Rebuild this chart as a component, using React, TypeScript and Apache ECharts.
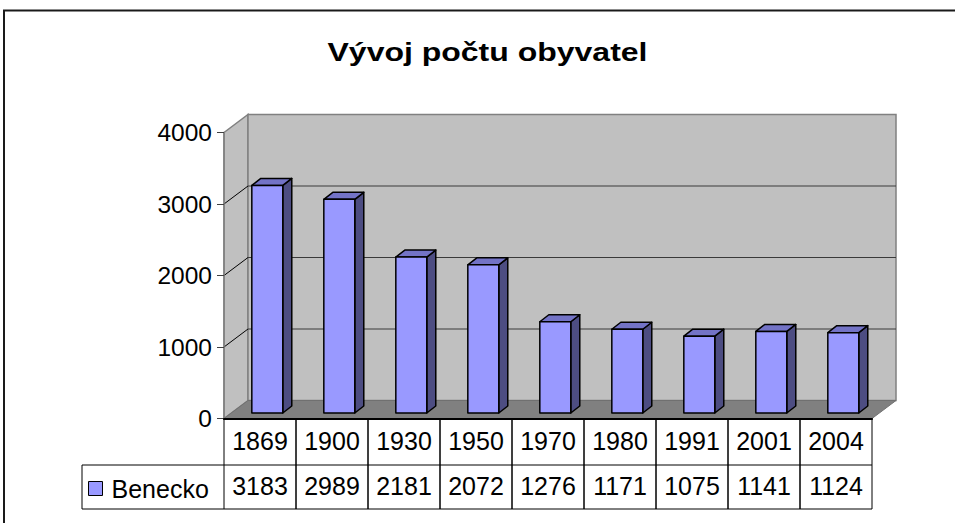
import React, { useEffect, useRef } from 'react';
import * as echarts from 'echarts';

const categories = ['1869', '1900', '1930', '1950', '1970', '1980', '1991', '2001', '2004'];
const population = [3183, 2989, 2181, 2072, 1276, 1171, 1075, 1141, 1124];
const yTicks = [0, 1000, 2000, 3000, 4000];
const seriesName = 'Benecko';
const titleText = 'Vývoj počtu obyvatel';

const FONT = '"Liberation Sans", Arial, Helvetica, sans-serif';

export default function App() {
  const ref = useRef<HTMLDivElement>(null);

  useEffect(() => {
    const chart = echarts.init(ref.current!, null, { renderer: 'svg' });

    // 3D depth of the plot box (relative to a category band of 72px)
    const DX = 24;
    const DY = -18;
    // bar placement inside the depth
    const FDX = 7.3;
    const FDY = -5.5;
    const BDX = 9;
    const BDY = -7;
    const ROW1_H = 46.5;
    const ROW2_H = 44;
    const LEGEND_LEFT = 82;

    const wallsRender = (params: any, api: any) => {
      const cs = params.coordSys;
      const x0 = cs.x;
      const x1 = cs.x + cs.width;
      const yT = cs.y;
      const yB = cs.y + cs.height;
      const children: any[] = [
        {
          type: 'polygon',
          shape: { points: [[x0, yT], [x0 + DX, yT + DY], [x0 + DX, yB + DY], [x0, yB]] },
          style: { fill: '#c0c0c0', stroke: '#808080', lineWidth: 1.5 },
        },
        {
          type: 'rect',
          shape: { x: x0 + DX, y: yT + DY, width: cs.width, height: cs.height },
          style: { fill: '#c0c0c0', stroke: '#808080', lineWidth: 1.5 },
        },
        {
          type: 'polygon',
          shape: { points: [[x0, yB], [x1, yB], [x1 + DX, yB + DY], [x0 + DX, yB + DY]] },
          style: { fill: '#808080', stroke: '#707070', lineWidth: 1 },
        },
      ];
      yTicks.forEach((t) => {
        if (t === yTicks[0] || t === yTicks[yTicks.length - 1]) return;
        const y = api.coord([0, t])[1];
        children.push({
          type: 'line',
          shape: { x1: x0 + DX, y1: y + DY, x2: x1 + DX, y2: y + DY },
          style: { stroke: '#3a3a3a', lineWidth: 1 },
        });
        children.push({
          type: 'line',
          shape: { x1: x0, y1: y, x2: x0 + DX, y2: y + DY },
          style: { stroke: '#000', lineWidth: 1 },
        });
      });
      return { type: 'group', children };
    };

    const barRender = (params: any, api: any) => {
      const i = api.value(0);
      const v = api.value(1);
      const base = api.coord([i, 0]);
      const top = api.coord([i, v]);
      const band = api.size([1, 0])[0];
      const w = band * 0.43;
      const x1 = base[0] + FDX - w / 2;
      const x2 = x1 + w;
      const yTop = top[1] + FDY;
      const yBot = base[1] + FDY;
      const stroke = { stroke: '#000', lineWidth: 1.5, lineJoin: 'round' };
      return {
        type: 'group',
        children: [
          {
            type: 'polygon',
            shape: { points: [[x2, yTop], [x2 + BDX, yTop + BDY], [x2 + BDX, yBot + BDY], [x2, yBot]] },
            style: { fill: '#4d4d82', ...stroke },
          },
          {
            type: 'polygon',
            shape: { points: [[x1, yTop], [x2, yTop], [x2 + BDX, yTop + BDY], [x1 + BDX, yTop + BDY]] },
            style: { fill: '#7373c6', ...stroke },
          },
          {
            type: 'rect',
            shape: { x: x1, y: yTop, width: w, height: yBot - yTop },
            style: { fill: '#9999ff', ...stroke },
          },
        ],
      };
    };

    const tableRender = (params: any, api: any) => {
      const i = api.value(0);
      const v = api.value(1);
      const base = api.coord([i, 0]);
      const band = api.size([1, 0])[0];
      const l = base[0] - band / 2;
      const r = base[0] + band / 2;
      const y0 = base[1];
      const y1 = y0 + ROW1_H;
      const y2 = y1 + ROW2_H;
      const ls = { stroke: '#000', lineWidth: 1 };
      const children: any[] = [
        { type: 'line', shape: { x1: l, y1: y0, x2: l, y2: y2 }, style: ls },
        { type: 'line', shape: { x1: r, y1: y0, x2: r, y2: y2 }, style: ls },
        { type: 'line', shape: { x1: l, y1: y1, x2: r, y2: y1 }, style: ls },
        { type: 'line', shape: { x1: l, y1: y2, x2: r, y2: y2 }, style: ls },
        {
          type: 'text',
          x: base[0],
          y: (y1 + y2) / 2 - 1,
          style: {
            text: String(v),
            font: `25px ${FONT}`,
            fill: '#000',
            textAlign: 'center',
            textVerticalAlign: 'middle',
          },
        },
      ];
      if (i === 0) {
        children.push(
          { type: 'line', shape: { x1: LEGEND_LEFT, y1: y1, x2: l, y2: y1 }, style: ls },
          { type: 'line', shape: { x1: LEGEND_LEFT, y1: y2, x2: l, y2: y2 }, style: ls },
          { type: 'line', shape: { x1: LEGEND_LEFT, y1: y1, x2: LEGEND_LEFT, y2: y2 }, style: ls },
        );
      }
      return { type: 'group', children };
    };

    const barData = population.map((v, i) => [i, v]);

    chart.setOption({
      animation: false,
      backgroundColor: '#ffffff',
      grid: { left: 224, right: 83, top: 132.5, bottom: 104.5, containLabel: false },
      xAxis: {
        type: 'category',
        data: categories,
        axisLine: { show: true, lineStyle: { color: '#000', width: 2 } },
        axisTick: { show: false },
        axisLabel: {
          interval: 0,
          hideOverlap: false,
          fontSize: 25,
          fontFamily: FONT,
          color: '#000',
          margin: 22,
          verticalAlign: 'middle',
        },
        splitLine: { show: false },
        z: 10,
      },
      yAxis: {
        type: 'value',
        min: 0,
        max: 4000,
        interval: 1000,
        axisLine: { show: true, lineStyle: { color: '#808080', width: 1.5 } },
        axisTick: { show: true, length: 7, lineStyle: { color: '#404040', width: 1 } },
        axisLabel: {
          fontSize: 24.5,
          fontFamily: FONT,
          color: '#000',
          margin: 12,
          formatter: (v: number) => String(v),
        },
        splitLine: { show: false },
        z: 5,
      },
      legend: {
        data: [seriesName],
        left: 88,
        top: 476,
        padding: 0,
        icon: 'rect',
        itemWidth: 14,
        itemHeight: 14,
        itemStyle: { borderColor: '#000', borderWidth: 1 },
        textStyle: { fontSize: 25, fontFamily: FONT, color: '#000', padding: [0, 0, 0, 4] },
        selectedMode: false,
      },
      graphic: [
        {
          type: 'rect',
          shape: { x: 4, y: 10.5, width: 1000, height: 600 },
          style: { fill: 'none', stroke: '#1a1a1a', lineWidth: 2 },
          silent: true,
        },
        {
          type: 'text',
          x: 487.5,
          y: 52,
          scaleX: 1.28,
          style: {
            text: titleText,
            font: `bold 25px ${FONT}`,
            fill: '#000',
            textAlign: 'center',
            textVerticalAlign: 'middle',
          },
          silent: true,
        },
      ],
      series: [
        {
          type: 'custom',
          name: 'walls',
          renderItem: wallsRender,
          data: [[0, 0]],
          silent: true,
          z: 1,
          clip: false,
        },
        {
          type: 'custom',
          name: seriesName,
          renderItem: barRender,
          data: barData,
          encode: { x: 0, y: 1 },
          itemStyle: { color: '#9999ff', borderColor: '#000' },
          z: 3,
          clip: false,
        },
        {
          type: 'custom',
          name: 'table',
          renderItem: tableRender,
          data: barData,
          encode: { x: 0, y: 1 },
          silent: true,
          z: 4,
          clip: false,
        },
      ],
    });

    return () => {
      chart.dispose();
    };
  }, []);

  return (
    <div
      ref={ref}
      style={{ position: 'absolute', left: 0, top: 0, width: 955, height: 523, background: '#fff' }}
    />
  );
}
